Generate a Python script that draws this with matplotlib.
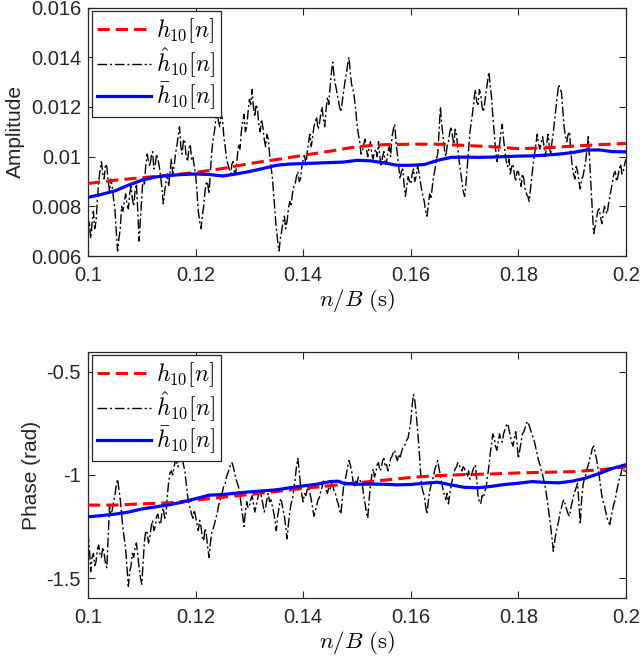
import numpy as np
import matplotlib
matplotlib.use("Agg")
import matplotlib.pyplot as plt
from matplotlib.ticker import FixedLocator, FixedFormatter

plt.rcParams['font.family'] = ['Liberation Sans', 'DejaVu Sans']
plt.rcParams['mathtext.fontset'] = 'cm'

# ---------------- data ----------------
# noisy estimates, sampled every 0.00025 s from 0.1 to 0.2
amp_hat = [
    0.0070, 0.0074, 0.0067, 0.0073, 0.0078, 0.0071, 0.0074, 0.0083, 0.0090, 0.0095,
    0.0098, 0.0093, 0.0091, 0.0097, 0.0096, 0.0090, 0.0086, 0.0091, 0.0088, 0.0083,
    0.0079, 0.0070, 0.0062, 0.0067, 0.0071, 0.0080, 0.0078, 0.0082, 0.0085, 0.0081,
    0.0079, 0.0085, 0.0088, 0.0083, 0.0080, 0.0086, 0.0089, 0.0078, 0.0066, 0.0075,
    0.0084, 0.0092, 0.0089, 0.0097, 0.0101, 0.0098, 0.0096, 0.0100, 0.0102, 0.0095,
    0.0097, 0.0101, 0.0099, 0.0096, 0.0092, 0.0087, 0.0081, 0.0086, 0.0090, 0.0093,
    0.0088, 0.0094, 0.0099, 0.0093, 0.0096, 0.0101, 0.0104, 0.0108, 0.0112, 0.0104,
    0.0101, 0.0107, 0.0106, 0.0100, 0.0098, 0.0103, 0.0105, 0.0099, 0.0100, 0.0096,
    0.0093, 0.0086, 0.0078, 0.0074, 0.0071, 0.0076, 0.0080, 0.0086, 0.0090, 0.0089,
    0.0085, 0.0094, 0.0102, 0.0107, 0.0110, 0.0115, 0.0119, 0.0114, 0.0112, 0.0117,
    0.0115, 0.0108, 0.0104, 0.0099, 0.0097, 0.0095, 0.0093, 0.0097, 0.0098, 0.0093,
    0.0094, 0.0100, 0.0105, 0.0103, 0.0110, 0.0114, 0.0117, 0.0110, 0.0112, 0.0118,
    0.0123, 0.0121, 0.0127, 0.0120, 0.0116, 0.0121, 0.0119, 0.0113, 0.0110, 0.0115,
    0.0112, 0.0107, 0.0104, 0.0109, 0.0107, 0.0101, 0.0096, 0.0092, 0.0085, 0.0078,
    0.0071, 0.0066, 0.0062, 0.0067, 0.0070, 0.0074, 0.0076, 0.0071, 0.0074, 0.0079,
    0.0082, 0.0080, 0.0085, 0.0088, 0.0089, 0.0092, 0.0094, 0.0090, 0.0091, 0.0096,
    0.0099, 0.0101, 0.0096, 0.0102, 0.0106, 0.0109, 0.0104, 0.0108, 0.0112, 0.0114,
    0.0116, 0.0111, 0.0113, 0.0117, 0.0120, 0.0115, 0.0112, 0.0119, 0.0124, 0.0121,
    0.0128, 0.0134, 0.0138, 0.0132, 0.0129, 0.0126, 0.0123, 0.0120, 0.0118, 0.0122,
    0.0126, 0.0130, 0.0133, 0.0137, 0.0140, 0.0134, 0.0129, 0.0127, 0.0124, 0.0119,
    0.0113, 0.0109, 0.0106, 0.0101, 0.0102, 0.0105, 0.0107, 0.0103, 0.0100, 0.0104,
    0.0106, 0.0101, 0.0099, 0.0102, 0.0103, 0.0100, 0.0106, 0.0100, 0.0096, 0.0100,
    0.0102, 0.0097, 0.0098, 0.0102, 0.0104, 0.0100, 0.0108, 0.0111, 0.0113, 0.0106,
    0.0101, 0.0096, 0.0091, 0.0094, 0.0095, 0.0089, 0.0084, 0.0088, 0.0092, 0.0090,
    0.0089, 0.0093, 0.0095, 0.0090, 0.0092, 0.0096, 0.0094, 0.0090, 0.0087, 0.0084,
    0.0082, 0.0078, 0.0076, 0.0080, 0.0085, 0.0083, 0.0088, 0.0092, 0.0095, 0.0099,
    0.0101, 0.0110, 0.0120, 0.0113, 0.0108, 0.0103, 0.0100, 0.0104, 0.0106, 0.0110,
    0.0112, 0.0108, 0.0105, 0.0111, 0.0109, 0.0103, 0.0098, 0.0094, 0.0090, 0.0086,
    0.0084, 0.0089, 0.0096, 0.0103, 0.0110, 0.0114, 0.0118, 0.0123, 0.0127, 0.0122,
    0.0121, 0.0127, 0.0125, 0.0120, 0.0118, 0.0122, 0.0126, 0.0130, 0.0134, 0.0129,
    0.0124, 0.0116, 0.0110, 0.0103, 0.0098, 0.0101, 0.0105, 0.0110, 0.0113, 0.0107,
    0.0102, 0.0098, 0.0096, 0.0099, 0.0093, 0.0096, 0.0097, 0.0093, 0.0090, 0.0094,
    0.0094, 0.0091, 0.0088, 0.0093, 0.0091, 0.0087, 0.0085, 0.0084, 0.0082, 0.0087,
    0.0092, 0.0097, 0.0101, 0.0105, 0.0109, 0.0105, 0.0103, 0.0106, 0.0108, 0.0104,
    0.0100, 0.0105, 0.0109, 0.0104, 0.0101, 0.0106, 0.0110, 0.0115, 0.0120, 0.0125,
    0.0129, 0.0127, 0.0126, 0.0119, 0.0112, 0.0108, 0.0106, 0.0109, 0.0110, 0.0102,
    0.0096, 0.0093, 0.0091, 0.0096, 0.0094, 0.0090, 0.0087, 0.0091, 0.0092, 0.0095,
    0.0098, 0.0103, 0.0108, 0.0098, 0.0088, 0.0078, 0.0069, 0.0072, 0.0075, 0.0078,
    0.0079, 0.0076, 0.0073, 0.0077, 0.0080, 0.0078, 0.0077, 0.0081, 0.0084, 0.0087,
    0.0090, 0.0093, 0.0094, 0.0090, 0.0092, 0.0095, 0.0097, 0.0093, 0.0094, 0.0097,
    0.0099]

phase_hat = [
    -1.28, -1.35, -1.47, -1.40, -1.38, -1.44, -1.42, -1.36, -1.34, -1.39,
    -1.40, -1.35, -1.38, -1.43, -1.45, -1.30, -1.15, -1.19, -1.17, -1.13,
    -1.10, -1.05, -1.02, -1.07, -1.12, -1.19, -1.26, -1.31, -1.36, -1.45,
    -1.54, -1.47, -1.44, -1.38, -1.40, -1.35, -1.33, -1.39, -1.45, -1.50,
    -1.53, -1.42, -1.32, -1.27, -1.28, -1.33, -1.30, -1.25, -1.22, -1.27,
    -1.25, -1.20, -1.19, -1.23, -1.24, -1.18, -1.16, -1.21, -1.19, -1.10,
    -1.03, -0.99, -0.98, -1.00, -0.96, -0.93, -0.94, -0.96, -0.91, -0.89,
    -0.92, -0.95, -0.98, -1.04, -1.10, -1.14, -1.16, -1.19, -1.21, -1.17,
    -1.20, -1.24, -1.27, -1.22, -1.25, -1.30, -1.32, -1.26, -1.29, -1.35,
    -1.40, -1.33, -1.28, -1.26, -1.24, -1.21, -1.19, -1.15, -1.13, -1.10,
    -1.08, -1.05, -1.04, -1.01, -0.99, -0.97, -0.95, -0.94, -0.96, -0.99,
    -1.02, -1.04, -1.06, -1.10, -1.15, -1.20, -1.25, -1.18, -1.13, -1.16,
    -1.15, -1.12, -1.10, -1.14, -1.18, -1.15, -1.12, -1.09, -1.08, -1.11,
    -1.14, -1.18, -1.16, -1.12, -1.09, -1.13, -1.12, -1.15, -1.18, -1.22,
    -1.27, -1.20, -1.16, -1.12, -1.13, -1.17, -1.20, -1.25, -1.31, -1.24,
    -1.18, -1.14, -1.12, -1.07, -1.02, -0.96, -0.92, -0.98, -1.05, -1.10,
    -1.13, -1.09, -1.10, -1.07, -1.06, -1.09, -1.12, -1.16, -1.20, -1.17,
    -1.15, -1.12, -1.11, -1.08, -1.06, -1.03, -1.04, -1.07, -1.09, -1.06,
    -1.07, -1.04, -1.05, -1.08, -1.09, -1.12, -1.14, -1.17, -1.19, -1.12,
    -1.06, -1.03, -1.00, -0.96, -0.93, -0.95, -0.98, -1.03, -1.06, -1.03,
    -1.04, -1.01, -1.02, -1.04, -1.05, -1.10, -1.14, -1.18, -1.21, -1.12,
    -1.05, -1.00, -0.97, -1.01, -0.99, -0.95, -0.94, -0.98, -0.97, -0.93,
    -0.92, -0.96, -0.95, -0.98, -0.96, -0.92, -0.91, -0.89, -0.88, -0.91,
    -0.93, -0.90, -0.92, -0.89, -0.87, -0.86, -0.85, -0.83, -0.82, -0.78,
    -0.74, -0.66, -0.61, -0.64, -0.70, -0.78, -0.86, -0.96, -1.05, -1.08,
    -1.10, -1.15, -1.19, -1.13, -1.08, -1.05, -1.03, -1.00, -0.97, -0.95,
    -0.93, -0.97, -1.00, -1.04, -1.07, -1.10, -1.12, -1.09, -1.14, -1.09,
    -1.05, -1.02, -0.99, -0.97, -0.96, -0.94, -0.95, -0.97, -0.98, -0.96,
    -0.97, -0.99, -1.01, -0.98, -1.02, -1.00, -0.98, -0.96, -0.95, -1.02,
    -1.10, -1.13, -1.14, -1.10, -1.11, -1.08, -1.06, -1.01, -0.96, -0.90,
    -0.85, -0.80, -0.82, -0.86, -0.88, -0.84, -0.80, -0.83, -0.84, -0.80,
    -0.78, -0.76, -0.75, -0.78, -0.81, -0.84, -0.86, -0.82, -0.79, -0.85,
    -0.92, -0.88, -0.84, -0.80, -0.79, -0.77, -0.75, -0.74, -0.76, -0.78,
    -0.80, -0.82, -0.84, -0.87, -0.90, -0.93, -0.95, -0.98, -1.00, -1.03,
    -1.06, -1.10, -1.15, -1.20, -1.25, -1.31, -1.37, -1.32, -1.28, -1.25,
    -1.22, -1.18, -1.16, -1.13, -1.12, -1.15, -1.17, -1.19, -1.20, -1.16,
    -1.13, -1.10, -1.08, -1.06, -1.04, -1.14, -1.24, -1.12, -1.05, -1.02,
    -1.00, -0.97, -0.95, -0.92, -0.90, -0.87, -0.86, -0.89, -0.92, -0.96,
    -1.00, -1.05, -1.10, -1.13, -1.15, -1.18, -1.21, -1.23, -1.24, -1.20,
    -1.17, -1.14, -1.12, -1.08, -1.05, -1.02, -1.00, -0.97, -0.96, -0.99,
    -0.98]

t_true = [0.100, 0.105, 0.110, 0.115, 0.120, 0.125, 0.130, 0.135, 0.140, 0.145, 0.150,
          0.155, 0.160, 0.165, 0.170, 0.175, 0.180, 0.185, 0.190, 0.195, 0.200]
amp_true = [0.00892, 0.00905, 0.00915, 0.00925, 0.00936, 0.00952, 0.00972, 0.00988, 0.01005,
            0.01022, 0.01040, 0.01048, 0.01050, 0.01050, 0.01045, 0.01040, 0.01032, 0.01035,
            0.01042, 0.01048, 0.01053]
phase_true = [-1.146, -1.146, -1.140, -1.135, -1.122, -1.108, -1.095, -1.080, -1.065, -1.052,
              -1.038, -1.025, -1.012, -1.003, -0.998, -0.995, -0.990, -0.987, -0.984, -0.975,
              -0.960]

t_amp_bar = [0.100, 0.1025, 0.105, 0.1075, 0.110, 0.1125, 0.115, 0.1175, 0.120, 0.1225,
             0.125, 0.1275, 0.130, 0.1325, 0.135, 0.1375, 0.140, 0.1425, 0.145, 0.1475,
             0.150, 0.1525, 0.155, 0.1575, 0.160, 0.1625, 0.165, 0.1675, 0.170, 0.1725,
             0.175, 0.1775, 0.180, 0.1825, 0.185, 0.1875, 0.190, 0.1925, 0.195, 0.1975, 0.200]
amp_bar = [0.00836, 0.00848, 0.00862, 0.00885, 0.00905, 0.00918, 0.00924, 0.00928, 0.00930,
           0.00928, 0.00922, 0.00930, 0.00940, 0.00952, 0.00965, 0.00970, 0.00972, 0.00974,
           0.00976, 0.00978, 0.00985, 0.00983, 0.00975, 0.00965, 0.00965, 0.00968, 0.00985,
           0.00997, 0.00998, 0.00997, 0.00998, 0.01000, 0.01002, 0.01003, 0.01006, 0.01010,
           0.01016, 0.01026, 0.01027, 0.01020, 0.01019]

t_phase_bar = [0.100, 0.1025, 0.105, 0.1075, 0.110, 0.1125, 0.115, 0.1175, 0.120, 0.1225,
               0.125, 0.1275, 0.130, 0.1325, 0.135, 0.1375, 0.140, 0.1425, 0.145, 0.1465,
               0.1475, 0.150, 0.1525, 0.155, 0.1575, 0.160, 0.1625, 0.165, 0.1675, 0.170,
               0.1725, 0.175, 0.1775, 0.180, 0.1825, 0.185, 0.1875, 0.190, 0.1925, 0.195,
               0.1975, 0.200]
phase_bar = [-1.203, -1.197, -1.190, -1.180, -1.165, -1.155, -1.145, -1.132, -1.115, -1.098,
             -1.095, -1.088, -1.082, -1.077, -1.072, -1.062, -1.053, -1.045, -1.032, -1.030,
             -1.040, -1.045, -1.044, -1.045, -1.048, -1.046, -1.040, -1.035, -1.048, -1.060,
             -1.062, -1.055, -1.046, -1.040, -1.032, -1.036, -1.038, -1.030, -1.015, -0.993,
             -0.968, -0.950]

x_ticks = [0.1, 0.12, 0.14, 0.16, 0.18, 0.2]
x_ticklabels = ['0.1', '0.12', '0.14', '0.16', '0.18', '0.2']
amp_ticks = [0.006, 0.008, 0.010, 0.012, 0.014, 0.016]
amp_ticklabels = ['0.006', '0.008', '0.01', '0.012', '0.014', '0.016']
phase_ticks = [-1.5, -1.0, -0.5]
phase_ticklabels = ['-1.5', '-1', '-0.5']

labels = [r'$h_{10}[n]$', r'$\hat{h}_{10}[n]$', r'$\bar{h}_{10}[n]$']

# ---------------- figure ----------------
W, H = 640, 662
fig = plt.figure(figsize=(W / 100, H / 100), dpi=100)

def px_axes(x0, y0, x1, y1):
    return fig.add_axes([x0 / W, 1 - y1 / H, (x1 - x0) / W, (y1 - y0) / H])

ax1 = px_axes(88, 7.5, 626, 256)
ax2 = px_axes(88, 352, 626, 598)

axc = (0.15, 0.15, 0.15)

t_hat_amp = np.linspace(0.1, 0.2, len(amp_hat))
t_hat_phase = np.linspace(0.1, 0.2, len(phase_hat))

def style(ax, yticks, ylabels, ylim, ylabel):
    ax.set_xlim(0.1, 0.2)
    ax.set_ylim(*ylim)
    ax.xaxis.set_major_locator(FixedLocator(x_ticks))
    ax.xaxis.set_major_formatter(FixedFormatter(x_ticklabels))
    ax.yaxis.set_major_locator(FixedLocator(yticks))
    ax.yaxis.set_major_formatter(FixedFormatter(ylabels))
    ax.tick_params(direction='in', length=5, width=0.8, colors=axc, labelsize=14.5,
                   top=True, right=True, pad=5)
    ax.tick_params(axis='x', pad=7)
    for s in ax.spines.values():
        s.set_color(axc)
        s.set_linewidth(0.9)
    ax.set_xlabel(r'$n/B\ \mathrm{(s)}$', fontsize=16.5, labelpad=2)
    ax.set_ylabel(ylabel, fontsize=15, color=axc, labelpad=4)

def draw(ax, tt, yt, th, yh, tb, yb, bbox_y):
    l1, = ax.plot(tt, yt, color=(1, 0, 0), lw=2.2, dashes=(4, 2), zorder=3)
    l2, = ax.plot(th, yh, color='black', lw=1.0, dashes=(7, 2, 1.5, 2), zorder=2)
    l3, = ax.plot(tb, yb, color=(0, 0, 1), lw=2.3, zorder=4)
    leg = ax.legend([l1, l2, l3], labels, loc='upper left', bbox_to_anchor=(0.0074, bbox_y),
                    borderaxespad=0, fontsize=17, handlelength=2.3, handletextpad=0.2,
                    labelspacing=0.02, borderpad=0.22, fancybox=False, framealpha=1,
                    edgecolor=axc)
    leg.get_frame().set_linewidth(0.9)

draw(ax1, t_true, amp_true, t_hat_amp, amp_hat, t_amp_bar, amp_bar, 0.986)
style(ax1, amp_ticks, amp_ticklabels, (0.006, 0.016), 'Amplitude')

draw(ax2, t_true, phase_true, t_hat_phase, phase_hat, t_phase_bar, phase_bar, 0.988)
style(ax2, phase_ticks, phase_ticklabels, (-1.597, -0.403), 'Phase (rad)')

fig.savefig('out.png', dpi=100)
